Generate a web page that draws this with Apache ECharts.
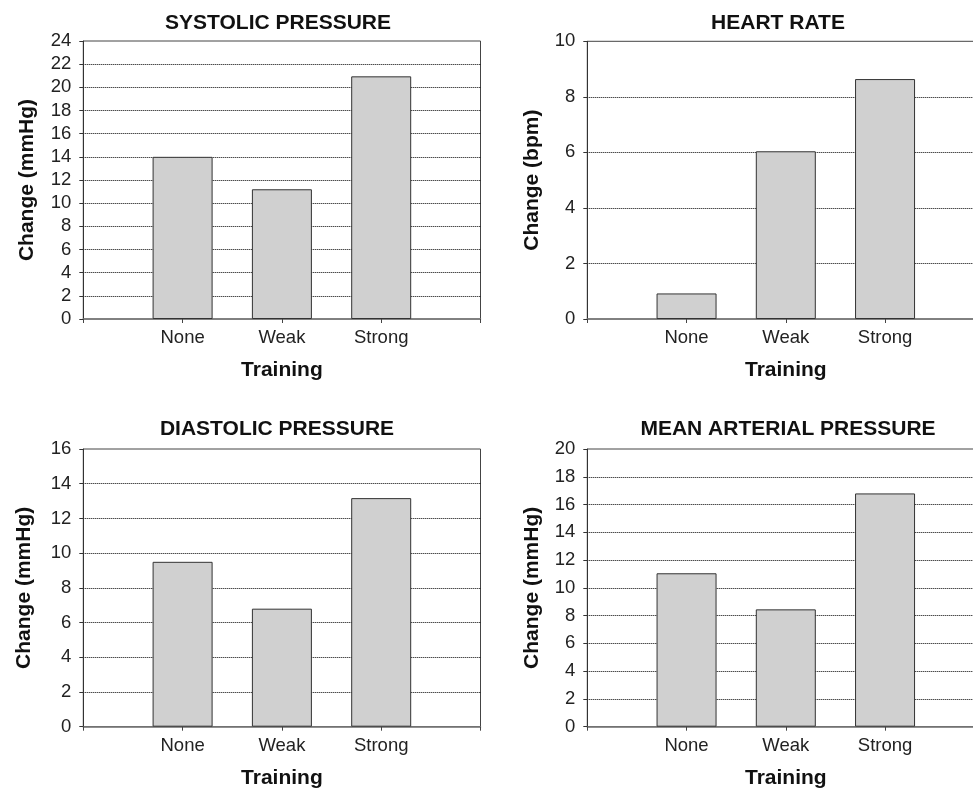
<!DOCTYPE html>
<html>
<head>
<meta charset="utf-8">
<script src="https://cdn.jsdelivr.net/npm/echarts@6/dist/echarts.min.js"></script>
<style>
html,body{margin:0;padding:0;background:#fff;}
#chart{width:973px;height:789px;}
</style>
</head>
<body>
<div id="chart"></div>
<script>
const categories = ['None', 'Weak', 'Strong'];
const systolic = [14.0, 11.2, 20.95];
const heartRate = [0.92, 6.04, 8.64];
const diastolic = [9.5, 6.8, 13.17];
const meanArterial = [11.05, 8.45, 16.8];
const titles = ['SYSTOLIC PRESSURE', 'HEART RATE', 'DIASTOLIC PRESSURE', 'MEAN ARTERIAL PRESSURE'];
const yNames = ['Change (mmHg)', 'Change (bpm)', 'Change (mmHg)', 'Change (mmHg)'];
const xName = 'Training';
const yMax = [24, 10, 16, 20];
const yStep = [2, 2, 2, 2];

const FONT = '"Liberation Sans", Arial, sans-serif';
const panels = [
  {vals: systolic, grid: {left: 83.3, top: 41, width: 397.2, height: 278}, titleX: 278, titleY: 13, nameGap: 46, labMargin: 9},
  {vals: heartRate, grid: {left: 587.3, top: 41.3, width: 397, height: 277.7}, titleX: 778, titleY: 13, nameGap: 45, labMargin: 9},
  {vals: diastolic, grid: {left: 83.3, top: 449, width: 397.2, height: 277.7}, titleX: 277, titleY: 419, nameGap: 49, labMargin: 10},
  {vals: meanArterial, grid: {left: 587.3, top: 449, width: 397, height: 277.7}, titleX: 788, titleY: 419, nameGap: 45, labMargin: 10}
];

const axisData = [''].concat(categories, ['']);

const option = {
  animation: false,
  backgroundColor: '#fff',
  title: panels.map((p, i) => ({
    text: titles[i], left: p.titleX, top: p.titleY, textAlign: 'center', padding: 0,
    textStyle: {fontFamily: FONT, fontSize: 21, fontWeight: 'bold', color: '#111'}
  })),
  grid: panels.map(p => Object.assign({show: true, outerBoundsMode: 'none', containLabel: false, borderColor: '#444', borderWidth: 1, backgroundColor: 'transparent'}, p.grid)),
  xAxis: panels.map((p, i) => ({
    type: 'category', gridIndex: i, data: axisData, boundaryGap: false,
    name: xName, nameLocation: 'middle', nameGap: 41,
    nameTextStyle: {fontFamily: FONT, fontSize: 21, fontWeight: 'bold', color: '#111'},
    axisLine: {lineStyle: {color: '#777', width: 1.5}},
    axisTick: {show: true, length: 4, lineStyle: {color: '#444', width: 1}},
    axisLabel: {fontFamily: FONT, fontSize: 18.5, color: '#222', margin: p.labMargin, interval: 0},
    splitLine: {show: false}
  })),
  yAxis: panels.map((p, i) => ({
    type: 'value', gridIndex: i, min: 0, max: yMax[i], interval: yStep[i],
    name: yNames[i], nameLocation: 'middle', nameGap: p.nameGap, nameRotate: 90,
    nameTextStyle: {fontFamily: FONT, fontSize: 21, fontWeight: 'bold', color: '#111'},
    axisLine: {show: true, lineStyle: {color: '#333', width: 1}},
    axisTick: {show: true, length: 4, lineStyle: {color: '#333', width: 1}},
    axisLabel: {fontFamily: FONT, fontSize: 18.5, color: '#222', margin: 12},
    splitLine: {show: true, showMinLine: false, showMaxLine: false, lineStyle: {color: '#000', width: 1, type: [1, 1]}}
  })),
  series: panels.map((p, i) => ({
    type: 'bar', xAxisIndex: i, yAxisIndex: i, barWidth: 60,
    data: [null].concat(p.vals, [null]),
    itemStyle: {color: '#d0d0d0', borderColor: '#333', borderWidth: 1}
  }))
};

const chart = echarts.init(document.getElementById('chart'), null, {renderer: 'canvas'});
chart.setOption(option);
</script>
</body>
</html>
